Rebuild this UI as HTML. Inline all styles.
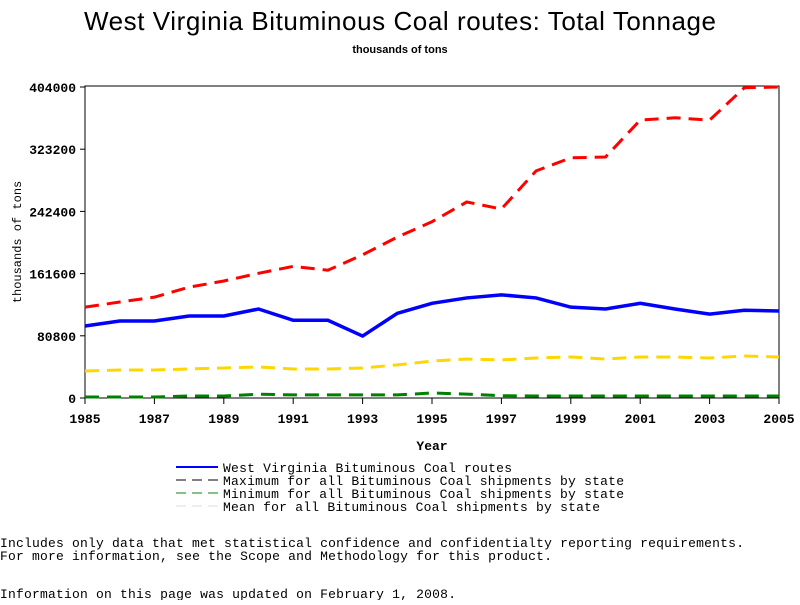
<!DOCTYPE html>
<html><head><meta charset="utf-8"><style>
body{margin:0;background:#fff;width:800px;height:600px;overflow:hidden}
svg text{font-family:"Liberation Mono",monospace;fill:#000}
</style></head><body>
<svg width="800" height="600">
<text x="400" y="30" text-anchor="middle" textLength="632" style="font-family:'Liberation Sans',sans-serif;font-size:26px">West Virginia Bituminous Coal routes: Total Tonnage</text>
<text x="400" y="53" text-anchor="middle" style="font-family:'Liberation Sans',sans-serif;font-size:11px;font-weight:bold">thousands of tons</text>
<rect x="85" y="86" width="694" height="312" fill="none" stroke="#000" stroke-width="1"/>
<g id="axes"></g>
<g id="series"></g>
<text x="432" y="450" text-anchor="middle" font-size="13" font-weight="bold">Year</text>
<text transform="translate(21,242) rotate(-90)" text-anchor="middle" font-size="12">thousands of tons</text>
<g font-size="13">
<line x1="176" y1="467" x2="218" y2="467" stroke="#00f" stroke-width="2"/><text x="223" y="472" textLength="289">West Virginia Bituminous Coal routes</text>
<line x1="176" y1="480" x2="218" y2="480" stroke="#000" stroke-dasharray="10,6"/><text x="223" y="485" textLength="401">Maximum for all Bituminous Coal shipments by state</text>
<line x1="176" y1="493" x2="218" y2="493" stroke="#080" stroke-dasharray="10,6"/><text x="223" y="498" textLength="401">Minimum for all Bituminous Coal shipments by state</text>
<line x1="176" y1="506" x2="218" y2="506" stroke="#ddd" stroke-dasharray="10,6"/><text x="223" y="511" textLength="377">Mean for all Bituminous Coal shipments by state</text>
</g>
<text x="0" y="547" font-size="13" textLength="744">Includes only data that met statistical confidence and confidentialty reporting requirements.</text>
<text x="0" y="560" font-size="13" textLength="552">For more information, see the Scope and Methodology for this product.</text>
<text x="0" y="598" font-size="13" textLength="456">Information on this page was updated on February 1, 2008.</text>
</svg>
<script>
const years=[1985,1986,1987,1988,1989,1990,1991,1992,1993,1994,1995,1996,1997,1998,1999,2000,2001,2002,2003,2004,2005];
const wv=[93500,100000,100000,106500,106500,115600,101000,101000,80500,110000,123000,130000,134000,130000,118000,115600,123000,115600,109000,114000,113000];
const maxv=[118000,124700,131000,144000,152000,162000,171000,166000,186000,209000,229000,254600,245500,295000,312000,313000,361000,364000,361000,403000,404000];
const meanv=[35000,36400,36400,37700,39000,40300,37700,37700,39000,43000,48000,50600,49400,52000,53300,50600,53300,53300,52000,54600,53300];
const minv=[1300,1300,1300,2600,2600,5000,4000,4000,4000,4000,6500,5000,3000,2600,2600,2600,2600,2600,2600,2600,2600];
const yTicks=[0,80800,161600,242400,323200,404000];
const xTicks=[1985,1987,1989,1991,1993,1995,1997,1999,2001,2003,2005];
const X=y=>85+(y-1985)*(694/20);
const Y=v=>398-v*(311/404000);
const NS='http://www.w3.org/2000/svg';
const ax=document.getElementById('axes'),sr=document.getElementById('series');
function mk(t,a,p){const e=document.createElementNS(NS,t);for(const k in a)e.setAttribute(k,a[k]);p.appendChild(e);return e;}
yTicks.forEach(v=>{
 mk('line',{x1:80,x2:85,y1:Y(v),y2:Y(v),stroke:'#000'},ax);
 const t=mk('text',{x:76,y:Y(v)+5,'text-anchor':'end','font-size':13,'font-weight':'bold'},ax);t.textContent=v;
 
 
});
xTicks.forEach(v=>{
 mk('line',{x1:X(v),x2:X(v),y1:398,y2:404,stroke:'#000'},ax);
 const t=mk('text',{x:X(v),y:423,'text-anchor':'middle','font-size':13,'font-weight':'bold'},ax);t.textContent=v;
 
 
});
function line(d,c,w,dash,name){
 const p=mk('polyline',{points:d.map((v,i)=>X(years[i])+','+Y(v)).join(' '),fill:'none',stroke:c,'stroke-width':w,'stroke-dasharray':dash},sr);
 
 
}
line(meanv,'#ffd700',3,'14,8','mean-line');
line(minv,'#008000',3,'14,8','min-line');
line(maxv,'#ff0000',3,'14,8','max-line');
line(wv,'#0000ff',3.5,'none','wv-line');
</script>
</body></html>
